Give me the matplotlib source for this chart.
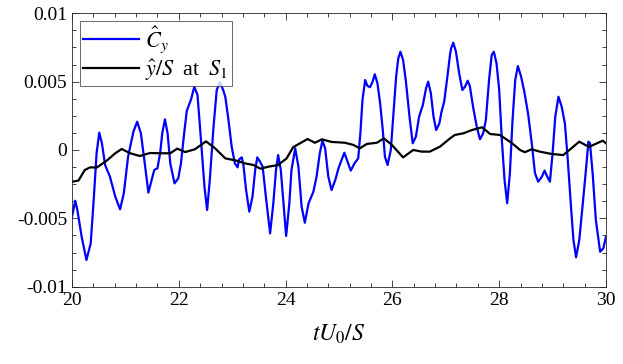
import numpy as np
import matplotlib
matplotlib.use("Agg")
import matplotlib.pyplot as plt
from matplotlib.ticker import MultipleLocator

plt.rcParams['font.family'] = ['Liberation Serif', 'DejaVu Serif']
plt.rcParams['mathtext.fontset'] = 'stix'

# lift coefficient fluctuation (blue)
cy_t = [20.00, 20.06, 20.10, 20.18, 20.27, 20.35, 20.41, 20.46, 20.51, 20.56,
        20.62, 20.71, 20.81, 20.90, 20.97, 21.05, 21.15, 21.22, 21.29, 21.37,
        21.43, 21.49, 21.54, 21.60, 21.65, 21.69, 21.74, 21.79, 21.84, 21.92,
        21.99, 22.04, 22.10, 22.15, 22.23, 22.29, 22.35, 22.42, 22.48, 22.53,
        22.58, 22.65, 22.71, 22.77, 22.83, 22.87, 22.93, 22.99, 23.05, 23.10,
        23.13, 23.18, 23.21, 23.26, 23.32, 23.38, 23.43, 23.47, 23.52, 23.57,
        23.63, 23.71, 23.77, 23.82, 23.86, 23.91, 23.96, 24.01, 24.07, 24.11,
        24.18, 24.24, 24.30, 24.36, 24.43, 24.52, 24.58, 24.64, 24.69, 24.74,
        24.80, 24.86, 24.93, 24.99, 25.05, 25.10, 25.16, 25.22, 25.29, 25.36,
        25.40, 25.44, 25.49, 25.53, 25.58, 25.63, 25.67, 25.72, 25.77, 25.82,
        25.86, 25.91, 25.97, 26.02, 26.07, 26.11, 26.15, 26.20, 26.25, 26.32,
        26.38, 26.44, 26.50, 26.57, 26.63, 26.67, 26.72, 26.77, 26.82, 26.88,
        26.92, 26.97, 27.03, 27.08, 27.10, 27.14, 27.19, 27.25, 27.31, 27.36,
        27.41, 27.45, 27.51, 27.58, 27.64, 27.70, 27.75, 27.81, 27.86, 27.90,
        27.95, 28.00, 28.05, 28.10, 28.15, 28.20, 28.25, 28.30, 28.35, 28.41,
        28.47, 28.54, 28.61, 28.67, 28.73, 28.80, 28.85, 28.90, 28.95, 29.00,
        29.05, 29.11, 29.17, 29.23, 29.28, 29.34, 29.39, 29.44, 29.50, 29.56,
        29.63, 29.67, 29.70, 29.75, 29.81, 29.89, 29.95, 30.00]
cy = [-0.00488, -0.00371, -0.00439, -0.00634, -0.00805, -0.00683, -0.00341, -0.00024,
      0.00127, 0.00049, -0.00110, -0.00195, -0.00341, -0.00434, -0.00317, -0.00049,
      0.00134, 0.00207, 0.00122, -0.00122, -0.00312, -0.00220, -0.00146, -0.00134,
      -0.00024, 0.00122, 0.00224, 0.00122, -0.00098, -0.00244, -0.00207, -0.00098,
      0.00122, 0.00288, 0.00371, 0.00463, 0.00402, 0.00049, -0.00268, -0.00439,
      -0.00220, 0.00170, 0.00439, 0.00495, 0.00439, 0.00390, 0.00220, 0.00024,
      -0.00098, -0.00127, -0.00068, -0.00054, -0.00110, -0.00293, -0.00451, -0.00341,
      -0.00146, -0.00054, -0.00085, -0.00122, -0.00341, -0.00610, -0.00390, -0.00146,
      -0.00037, -0.00146, -0.00390, -0.00629, -0.00390, -0.00146, 0.00012, -0.00122,
      -0.00415, -0.00532, -0.00390, -0.00305, -0.00195, -0.00024, 0.00068, 0.00012,
      -0.00195, -0.00293, -0.00220, -0.00134, -0.00073, -0.00020, -0.00085, -0.00151,
      -0.00098, -0.00061, 0.00122, 0.00366, 0.00512, 0.00470, 0.00459, 0.00500,
      0.00554, 0.00488, 0.00342, 0.00146, -0.00049, -0.00110, 0.00000, 0.00268,
      0.00537, 0.00670, 0.00719, 0.00658, 0.00512, 0.00244, 0.00049, 0.00098,
      0.00244, 0.00329, 0.00451, 0.00500, 0.00415, 0.00244, 0.00146, 0.00195,
      0.00280, 0.00354, 0.00537, 0.00700, 0.00744, 0.00785, 0.00719, 0.00561,
      0.00439, 0.00463, 0.00507, 0.00468, 0.00317, 0.00170, 0.00078, 0.00122,
      0.00219, 0.00512, 0.00695, 0.00719, 0.00634, 0.00439, 0.00073, -0.00220,
      -0.00390, -0.00170, 0.00219, 0.00512, 0.00614, 0.00537, 0.00427, 0.00268,
      0.00049, -0.00170, -0.00232, -0.00195, -0.00151, -0.00195, -0.00232, -0.00024,
      0.00244, 0.00390, 0.00317, 0.00195, -0.00049, -0.00390, -0.00658, -0.00785,
      -0.00658, -0.00415, -0.00122, 0.00061, 0.00049, -0.00170, -0.00512, -0.00744,
      -0.00719, -0.00634]

# transverse displacement at S1 (black)
y_t = [20.00, 20.12, 20.24, 20.34, 20.46, 20.65, 20.81, 20.93, 21.09, 21.27,
       21.46, 21.62, 21.84, 21.97, 22.12, 22.30, 22.51, 22.68, 22.87, 23.08,
       23.24, 23.40, 23.53, 23.68, 23.86, 24.02, 24.14, 24.27, 24.41, 24.55,
       24.68, 24.86, 25.11, 25.27, 25.39, 25.52, 25.71, 25.84, 25.99, 26.20,
       26.39, 26.55, 26.70, 26.89, 27.08, 27.17, 27.33, 27.49, 27.68, 27.83,
       28.01, 28.23, 28.39, 28.48, 28.61, 28.76, 28.98, 29.20, 29.33, 29.50,
       29.61, 29.69, 29.83, 29.94, 30.00]
y_s = [-0.00232, -0.00224, -0.00146, -0.00127, -0.00129, -0.00078, -0.00024, 0.00007,
       -0.00024, -0.00044, -0.00022, -0.00024, -0.00024, 0.00010, -0.00015, 0.00005,
       0.00063, 0.00012, -0.00061, -0.00078, -0.00098, -0.00110, -0.00137, -0.00122,
       -0.00110, -0.00061, 0.00020, 0.00049, 0.00080, 0.00053, 0.00078, 0.00059,
       0.00053, 0.00037, 0.00012, 0.00044, 0.00053, 0.00085, 0.00037, -0.00054,
       0.00000, -0.00012, -0.00012, 0.00024, 0.00085, 0.00110, 0.00122, 0.00146,
       0.00166, 0.00117, 0.00110, 0.00053, 0.00000, -0.00016, 0.00005, -0.00012,
       -0.00029, -0.00037, 0.00005, 0.00061, 0.00037, 0.00024, 0.00049, 0.00068,
       0.00049]

y_ticks = [-0.01, -0.005, 0, 0.005, 0.01]
y_tick_labels = ['-0.01', '-0.005', '0', '0.005', '0.01']

fig = plt.figure(figsize=(6.23, 3.64), dpi=100)
ax = fig.add_axes([0.1156, 0.2124, 0.8571, 0.7511])

ax.plot(cy_t, cy, color='#0000ff', lw=1.6, label=r'$\hat{C}_y$')
ax.plot(y_t, y_s, color='black', lw=1.6, label=r'$\hat{y}/S\;$ at $\;S_1$')

ax.set_xlim(20, 30)
ax.set_ylim(-0.01, 0.01)
ax.set_xticks([20, 22, 24, 26, 28, 30])
ax.set_yticks(y_ticks)
ax.set_yticklabels(y_tick_labels)
ax.xaxis.set_minor_locator(MultipleLocator(0.4))
ax.yaxis.set_minor_locator(MultipleLocator(0.00125))
ax.tick_params(which='both', direction='in', top=True, right=True, labelsize=14,
               color='#262626', width=0.6)
ax.tick_params(which='major', length=5)
ax.tick_params(which='minor', length=3)
for sp in ax.spines.values():
    sp.set_linewidth(0.6)
    sp.set_color('#262626')

ax.set_xlabel(r'$tU_0/S$', fontsize=17, labelpad=10)

leg = ax.legend(loc='upper left', fontsize=16, frameon=True, fancybox=False,
                edgecolor='#262626', borderpad=0.15, labelspacing=0.1,
                handlelength=2.5, handletextpad=0.3, borderaxespad=0.35)
leg.get_frame().set_linewidth(0.6)

fig.savefig('out.png', dpi=100)
